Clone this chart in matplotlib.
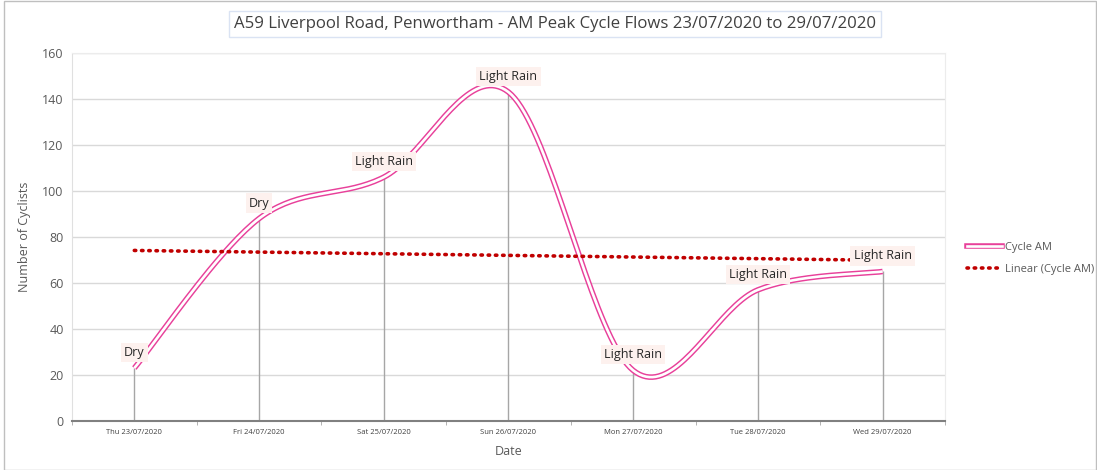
import numpy as np
import matplotlib.pyplot as plt
from matplotlib.patches import Rectangle
from matplotlib.lines import Line2D

dates = ["Thu 23/07/2020", "Fri 24/07/2020", "Sat 25/07/2020", "Sun 26/07/2020",
         "Mon 27/07/2020", "Tue 28/07/2020", "Wed 29/07/2020"]
cycle_am = [23, 88, 106, 143, 22, 57, 65]
weather = ["Dry", "Dry", "Light Rain", "Light Rain", "Light Rain", "Light Rain", "Light Rain"]

plt.rcParams['font.family'] = ['Open Sans', 'DejaVu Sans']

PINK = '#e8409a'
RED = '#c00000'
GRID = '#d9d9d9'

def excel_smooth(x, y, n=40):
    x = np.asarray(x, float); y = np.asarray(y, float)
    px = np.concatenate([[x[0]], x, [x[-1]]])
    py = np.concatenate([[y[0]], y, [y[-1]]])
    xs, ys = [], []
    t = np.linspace(0, 1, n)
    for i in range(1, len(px) - 2):
        p0 = np.array([px[i], py[i]]); p3 = np.array([px[i + 1], py[i + 1]])
        p1 = p0 + (np.array([px[i + 1], py[i + 1]]) - np.array([px[i - 1], py[i - 1]])) / 6
        p2 = p3 - (np.array([px[i + 2], py[i + 2]]) - np.array([px[i], py[i]])) / 6
        b = ((1 - t) ** 3)[:, None] * p0 + (3 * (1 - t) ** 2 * t)[:, None] * p1 \
            + (3 * (1 - t) * t ** 2)[:, None] * p2 + (t ** 3)[:, None] * p3
        xs.extend(b[:, 0]); ys.extend(b[:, 1])
    return np.array(xs), np.array(ys)

fig = plt.figure(figsize=(10.97, 4.70), dpi=100)
fig.patches.append(Rectangle((0.004, 0.0), 0.995, 0.998, transform=fig.transFigure,
                             fill=False, edgecolor='#bfbfbf', lw=1))
ax = fig.add_axes([0.0656, 0.1043, 0.7958, 0.7830])

x = np.arange(len(dates))
ax.set_xlim(-0.5, len(dates) - 0.5)
ax.set_ylim(0, 160)
ax.set_yticks(np.arange(0, 161, 20))
ax.yaxis.grid(True, color=GRID, lw=1)
ax.set_axisbelow(True)

# drop lines
ax.vlines(x, 0, cycle_am, color='#a6a6a6', lw=1, zorder=2)

sx, sy = excel_smooth(x, cycle_am)
ax.plot(sx, sy, color=PINK, lw=4.0, solid_capstyle='butt', zorder=3)
ax.plot(sx, sy, color='white', lw=1.9, solid_capstyle='butt', zorder=4)

coef = np.polyfit(x, cycle_am, 1)
tx = np.array([0, len(dates) - 1])
ax.plot(tx, np.polyval(coef, tx), color=RED, lw=2.6, linestyle=(0, (0.4, 1.6)),
        dash_capstyle='round', zorder=5)

for xi, yi, lab in zip(x, cycle_am, weather):
    ax.annotate(lab, (xi, yi), xytext=(0, 6.5), textcoords='offset points',
                ha='center', va='bottom', fontsize=9, color='#262626', zorder=6,
                bbox=dict(boxstyle='square,pad=0.25', fc='#fdf1ee', ec='none'))

ax.set_xticks(x)
ax.set_xticklabels(dates, fontsize=5.5, color='#404040')
ax.set_xticks(np.arange(-0.5, len(dates), 1), minor=True)
ax.tick_params(axis='x', which='major', length=0, pad=6)
ax.tick_params(axis='x', which='minor', length=3, color='#a6a6a6')
ax.tick_params(axis='y', length=0, labelsize=9, colors='#595959', pad=6)

ax.spines['bottom'].set_color('#808080')
ax.spines['bottom'].set_linewidth(1.5)
ax.spines['left'].set_color('#e0e0e0')
ax.spines['right'].set_color('#ececec')
ax.spines['top'].set_color('#ececec')

ax.set_xlabel('Date', fontsize=9, color='#595959', labelpad=6)
ax.set_ylabel('Number of Cyclists', fontsize=9, color='#595959', labelpad=8)

fig.text(0.506, 0.948, 'A59 Liverpool Road, Penwortham - AM Peak Cycle Flows 23/07/2020 to 29/07/2020',
         ha='center', va='center', fontsize=12.1, color='#404040',
         bbox=dict(boxstyle='square,pad=0.3', fc='white', ec='#dae3f3', lw=1))

h1a = Line2D([], [], color=PINK, lw=4.0)
h1b = Line2D([], [], color='white', lw=1.9)
h2 = Line2D([], [], color=RED, lw=2.6, linestyle=(0, (0.4, 1.6)), dash_capstyle='round')
leg = fig.legend([(h1a, h1b), h2], ['Cycle AM', 'Linear (Cycle AM)'], loc='center left',
                 bbox_to_anchor=(0.872, 0.45), frameon=False, fontsize=8,
                 handlelength=3.2, handletextpad=0.3, labelspacing=1.0)
for t in leg.get_texts():
    t.set_color('#595959')

fig.savefig('out.png', dpi=100)
